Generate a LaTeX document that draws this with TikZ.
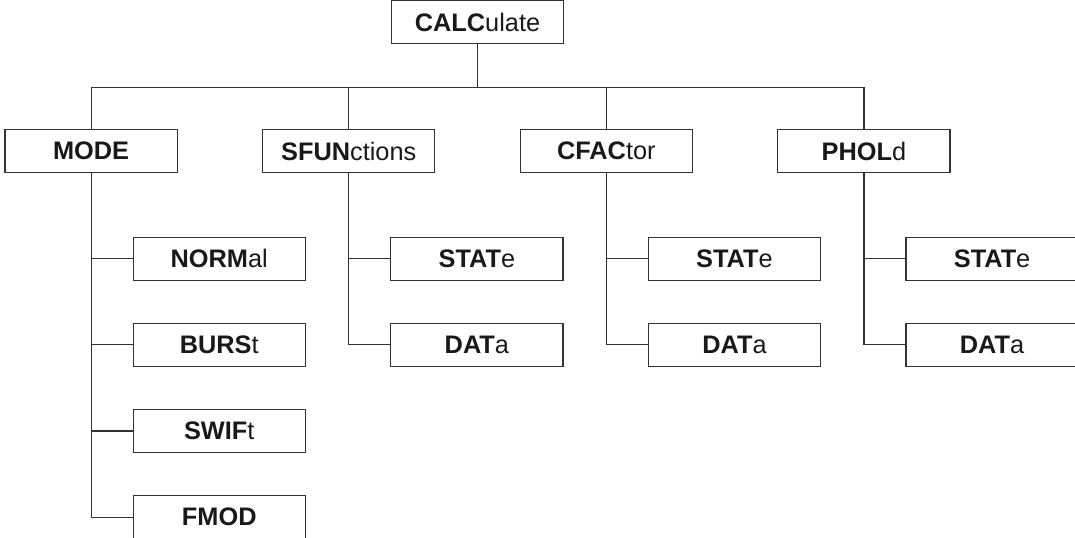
\documentclass[tikz,border=0pt]{standalone}
\usepackage{fontspec}
\setmainfont{Liberation Sans}
\usepackage{tikz}
\usetikzlibrary{trees}
\def\cmd#1#2{\textbf{#1}#2}

\begin{document}
\begin{tikzpicture}[every node/.style = {shape=rectangle, draw=black!80, line width=0.8pt,
                        minimum width=4.3cm, minimum height=1.075cm, inner sep=0pt,
                        font=\fontsize{18}{20}\selectfont, text=black!90},
                      edge from parent/.style = {draw=black!80, line width=0.8pt},
                      level 1/.style = {sibling distance=6.433cm, level distance=3.225cm,
                        edge from parent path = {(\tikzparentnode.south) -- ++(0,-1.075) -| (\tikzchildnode.north)}},
                      level 2/.style = {grow via three points = {one child at (3.2,-2.6875)
                          and two children at (3.2,-2.6875) and (3.2,-4.8375)},
                        edge from parent path = {(\tikzparentnode.south) |- (\tikzchildnode.west)}}]
                      \useasboundingbox (-11.925,0.55) rectangle (14.92,-12.86);
                      \node (calc) {\cmd{CALC}{ulate}}
                        child { node (mode) {\cmd{MODE}{}}
                            child { node (norm) {\cmd{NORM}{al}} }
                            child { node (burs) {\cmd{BURS}{t}} }
                            child { node (swif) {\cmd{SWIF}{t}} }
                            child { node (fmod) {\cmd{FMOD}{}} }
                            }
                        child { node (sfun) {\cmd{SFUN}{ctions}}
                            child { node (sfunstat) {\cmd{STAT}{e}} }
                            child { node (sfundat) {\cmd{DAT}{a}} }
                            }
                        child { node (cfac) {\cmd{CFAC}{tor}}
                            child { node (cfacstat) {\cmd{STAT}{e}} }
                            child { node (cfacdat) {\cmd{DAT}{a}} }
                            }
                        child { node (phol) {\cmd{PHOL}{d}}
                            child { node (pholstat) {\cmd{STAT}{e}} }
                            child { node (pholdat) {\cmd{DAT}{a}} }
                            };
                    \end{tikzpicture}
\end{document}
